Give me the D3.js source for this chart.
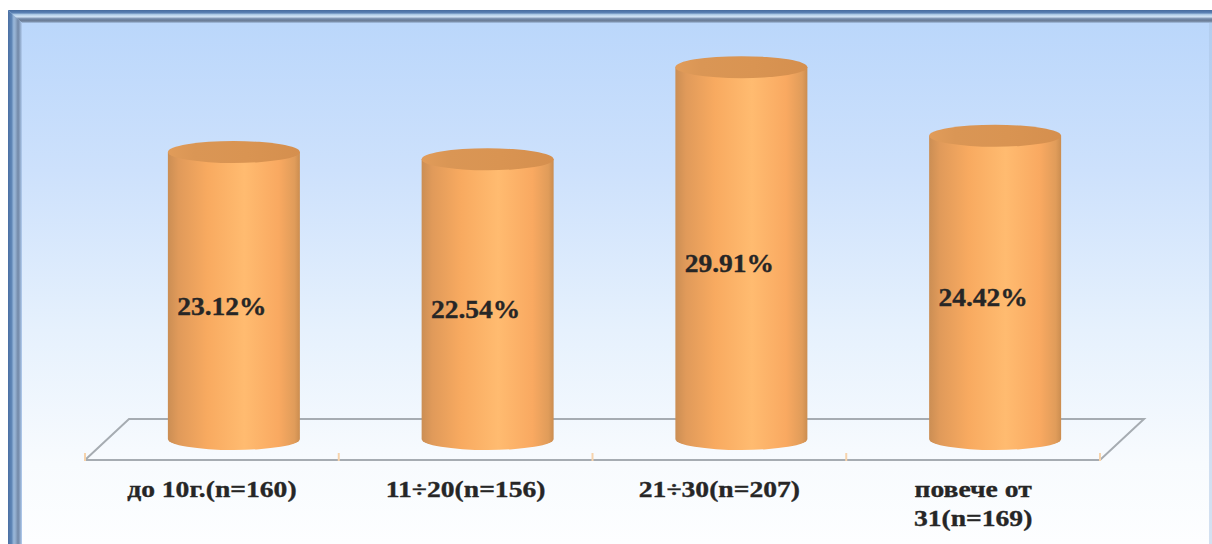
<!DOCTYPE html>
<html>
<head>
<meta charset="utf-8">
<script src="https://cdn.jsdelivr.net/npm/d3@7/dist/d3.min.js"></script>
<style>
html,body{margin:0;padding:0;background:#fff;overflow:hidden}
svg{display:block}
text{font-family:"Liberation Serif",serif;font-weight:bold;fill:#262626;stroke:#262626;stroke-width:0.35px}
</style>
</head>
<body>
<svg id="chart" width="1212" height="544"></svg>
<script>
const categories = ["до 10г.(n=160)", "11÷20(n=156)", "21÷30(n=207)", "повече от|31(n=169)"];
const shares = [23.12, 22.54, 29.91, 24.42];

const svg = d3.select("#chart");
const defs = svg.append("defs");

// Panel background, pale blue fading to near white
const bg = defs.append("linearGradient").attr("id","panelFill").attr("x1",0).attr("y1",0).attr("x2",0).attr("y2",1);
[[0,"#b9d6fb"],[0.3,"#cde1fc"],[0.6,"#e6f1fd"],[0.85,"#f8fbfe"],[1,"#fdfeff"]]
  .forEach(([o,c])=>bg.append("stop").attr("offset",o).attr("stop-color",c));

// Cylinder wall shading
const wall = defs.append("linearGradient").attr("id","wallFill").attr("x1",0).attr("y1",0).attr("x2",1).attr("y2",0);
[[0,"#cb8e54"],[0.08,"#e09a5a"],[0.3,"#f8aa60"],[0.58,"#ffbb70"],[0.84,"#f9a961"],[0.96,"#e09c5a"],[1,"#cb8d50"]]
  .forEach(([o,c])=>wall.append("stop").attr("offset",o).attr("stop-color",c));

// Cylinder lid shading
const lid = defs.append("linearGradient").attr("id","lidFill").attr("x1",0).attr("y1",0).attr("x2",1).attr("y2",0);
[[0,"#e19c5a"],[0.2,"#da9655"],[0.6,"#d99452"],[1,"#d58f4e"]]
  .forEach(([o,c])=>lid.append("stop").attr("offset",o).attr("stop-color",c));

// Bevelled frame strips
const frameTop = defs.append("linearGradient").attr("id","frameTop").attr("x1",0).attr("y1",0).attr("x2",0).attr("y2",1);
[[0,"#456a9e"],[0.22,"#5b82b4"],[0.36,"#b4d0ea"],[0.52,"#cfe2f5"],[0.68,"#7187a6"],[0.85,"#6b7c94"],[1,"#aac5e8"]]
  .forEach(([o,c])=>frameTop.append("stop").attr("offset",o).attr("stop-color",c));
const frameLeft = defs.append("linearGradient").attr("id","frameLeft").attr("x1",0).attr("y1",0).attr("x2",1).attr("y2",0);
[[0,"#4a6fa3"],[0.25,"#5f86b6"],[0.42,"#9ab8da"],[0.55,"#8fa9c9"],[0.72,"#7187a6"],[0.85,"#8ba3c3"],[1,"#b4cff2"]]
  .forEach(([o,c])=>frameLeft.append("stop").attr("offset",o).attr("stop-color",c));

const outline = d3.line();
svg.append("rect").attr("x",8).attr("y",10).attr("width",1204).attr("height",534).attr("fill","url(#panelFill)");
svg.append("path").attr("d",outline([[8,10],[1212,10],[1212,23],[22,23]])+"Z").attr("fill","url(#frameTop)");
svg.append("path").attr("d",outline([[8,10],[22,23],[22,544],[8,544]])+"Z").attr("fill","url(#frameLeft)");
svg.append("rect").attr("x",1209).attr("y",23).attr("width",3).attr("height",521).attr("fill","#a9c3e4").attr("opacity",0.5);

const floorY = 460, backY = 419, depthX = 44;
const x = d3.scaleBand().domain(categories).range([85,1100]).paddingInner(0).paddingOuter(0);
const y = d3.scaleLinear().domain([0,30]).range([441,66]);

// Floor plane
const floorX0 = x.range()[0], floorX1 = x.range()[1];
svg.append("path")
  .attr("d", outline([[floorX0,floorY],[floorX0+depthX,backY],[floorX1+depthX,backY],[floorX1,floorY],[floorX0,floorY]]))
  .attr("fill","none").attr("stroke","#a6acb2").attr("stroke-width",2);

// Category ticks along the front edge
const ticks = categories.map(c=>x(c)).concat(floorX1);
svg.selectAll("line.tick").data(ticks).join("line").attr("class","tick")
  .attr("x1",d=>d).attr("x2",d=>d).attr("y1",453).attr("y2",461)
  .attr("stroke","#f6d3ac").attr("stroke-width",2);

// Cylinders
const rx = 66, ry = 11;
const cx = c => x(c) + x.bandwidth()/2 + 22;
const bars = svg.selectAll("g.bar").data(categories.map((c,i)=>({c,v:shares[i]}))).join("g").attr("class","bar");
bars.append("path")
  .attr("d", d=>{
    const l=cx(d.c)-rx, r=cx(d.c)+rx, t=y(d.v), b=y(0)-2;
    return `M${l},${t}L${l},${b}A${rx},${ry} 0 0 0 ${r},${b}L${r},${t}Z`;
  })
  .attr("fill","url(#wallFill)");
bars.append("ellipse")
  .attr("cx",d=>cx(d.c)).attr("cy",d=>y(d.v)).attr("rx",rx).attr("ry",ry)
  .attr("fill","url(#lidFill)");

// Value labels, set wide
bars.append("text")
  .attr("transform",d=>`translate(${cx(d.c)-12},${(y(d.v)+y(0))/2+18}) scale(1.1,1)`)
  .attr("text-anchor","middle").attr("font-size",25)
  .text(d=>d.v.toFixed(2)+"%");

// Category labels, split on the line break marker and set wide
svg.selectAll("text.cat").data(categories).join("text").attr("class","cat")
  .attr("text-anchor","middle").attr("font-size",24)
  .attr("transform",c=>`translate(${x(c)+x.bandwidth()/2},497) scale(1.15,1)`)
  .each(function(c){
    c.split("|").forEach((t,i)=>d3.select(this).append("tspan")
      .attr("x",0).attr("y",i*29).text(t));
  });
</script>
</body>
</html>
